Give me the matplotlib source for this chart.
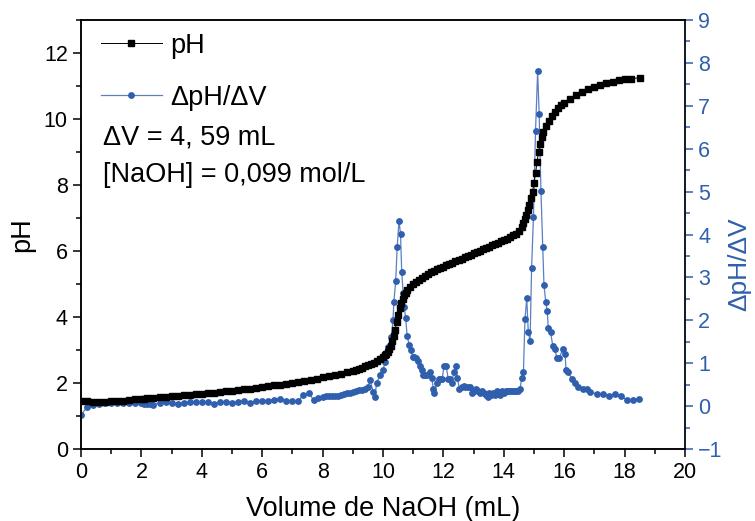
import numpy as np
from matplotlib import pyplot as plt
from matplotlib.ticker import MultipleLocator

# titration curve: volume (mL) and pH
vol_ph = [0.0, 0.2, 0.4, 0.6, 0.8, 1.0, 1.2, 1.4, 1.6, 1.8, 2.0, 2.1, 2.2, 2.4, 2.6,
          2.8, 3.0, 3.2, 3.4, 3.6, 3.8, 4.0, 4.2, 4.4, 4.6, 4.8, 5.0, 5.2, 5.4,
          5.6, 5.8, 6.0, 6.2, 6.4, 6.6, 6.8, 7.0, 7.2, 7.4, 7.6, 7.8, 8.0, 8.2,
          8.4, 8.6, 8.8, 9.0, 9.1, 9.2, 9.3, 9.4, 9.5, 9.6, 9.7, 9.8, 9.9, 10.0,
          10.05, 10.1, 10.15, 10.2, 10.25, 10.3, 10.35, 10.4, 10.45, 10.5, 10.55,
          10.6, 10.65, 10.7, 10.75, 10.8, 10.9, 11.0, 11.1, 11.2, 11.3, 11.4,
          11.5, 11.6, 11.7, 11.8, 11.9, 12.0, 12.1, 12.2, 12.3, 12.4, 12.5,
          12.6, 12.7, 12.8, 12.9, 13.0, 13.1, 13.2, 13.3, 13.4, 13.5, 13.6,
          13.7, 13.8, 13.9, 14.0, 14.1, 14.2, 14.3, 14.4, 14.5, 14.6, 14.65,
          14.7, 14.75, 14.8, 14.85, 14.9, 14.95, 15.0, 15.05, 15.1, 15.15, 15.2,
          15.25, 15.3, 15.4, 15.5, 15.6, 15.7, 15.8, 15.9, 16.0, 16.2, 16.4,
          16.6, 16.8, 17.0, 17.2, 17.4, 17.6, 17.8, 18.0, 18.2, 18.5]
ph = [1.46, 1.44, 1.43, 1.43, 1.43, 1.44, 1.45, 1.46, 1.48, 1.50, 1.52, 1.53, 1.54, 1.55, 1.57,
      1.58, 1.60, 1.62, 1.63, 1.65, 1.67, 1.68, 1.70, 1.71, 1.73, 1.75, 1.77, 1.79, 1.81,
      1.83, 1.86, 1.88, 1.90, 1.93, 1.95, 1.98, 2.01, 2.04, 2.07, 2.10, 2.13, 2.17, 2.20,
      2.24, 2.28, 2.32, 2.37, 2.40, 2.43, 2.46, 2.50, 2.54, 2.58, 2.62, 2.67, 2.73, 2.80,
      2.84, 2.89, 2.95, 3.03, 3.13, 3.26, 3.42, 3.62, 3.84, 4.06, 4.26,
      4.42, 4.55, 4.66, 4.74, 4.81, 4.92, 5.00, 5.07, 5.13, 5.19, 5.25,
      5.30, 5.35, 5.40, 5.45, 5.49, 5.53, 5.57, 5.61, 5.65, 5.69, 5.73,
      5.77, 5.81, 5.85, 5.89, 5.93, 5.97, 6.01, 6.05, 6.09, 6.13, 6.17,
      6.21, 6.25, 6.29, 6.33, 6.37, 6.42, 6.47, 6.53, 6.60, 6.72, 6.85,
      6.98, 7.10, 7.25, 7.40, 7.60, 7.80, 8.05, 8.35, 8.70, 9.00, 9.25,
      9.45, 9.60, 9.80, 9.95, 10.10, 10.22, 10.32, 10.41, 10.48, 10.62, 10.72,
      10.82, 10.90, 10.98, 11.04, 11.09, 11.13, 11.17, 11.20, 11.22, 11.25]

# first derivative
vol_d = [0.0, 0.2, 0.4, 0.6, 0.8, 1.0, 1.2, 1.4, 1.6, 1.8, 2.0, 2.1, 2.2, 2.3, 2.4,
         2.6, 2.8, 3.0, 3.2, 3.4, 3.6, 3.8, 4.0, 4.2, 4.4, 4.6, 4.8, 5.0, 5.2,
         5.4, 5.6, 5.8, 6.0, 6.2, 6.4, 6.6, 6.8, 7.0, 7.2, 7.35, 7.55, 7.7,
         7.85, 8.0, 8.1, 8.2, 8.3, 8.4, 8.5, 8.6, 8.7, 8.8, 8.9, 9.0, 9.1, 9.2,
         9.3, 9.4, 9.5, 9.57, 9.67, 9.73, 9.79, 9.9, 10.0, 10.07, 10.12, 10.17,
         10.28, 10.33, 10.36, 10.42, 10.47, 10.53, 10.58, 10.62, 10.67, 10.7,
         10.75, 10.8, 10.87, 10.93, 10.98, 11.04, 11.09, 11.17, 11.22, 11.28,
         11.34, 11.39, 11.45, 11.56, 11.61, 11.67, 11.7, 11.78, 11.84, 11.9,
         11.96, 12.02, 12.09, 12.16, 12.22, 12.27, 12.35, 12.42, 12.46, 12.53,
         12.6, 12.67, 12.73, 12.8, 12.87, 12.94, 13.0, 13.07, 13.13, 13.2,
         13.27, 13.33, 13.4, 13.46, 13.52, 13.58, 13.64, 13.7, 13.76, 13.82,
         13.88, 13.94, 14.0, 14.06, 14.12, 14.18, 14.24, 14.3, 14.36, 14.42,
         14.48, 14.54, 14.59, 14.65, 14.7, 14.76, 14.81, 14.87, 14.92, 14.98,
         15.05, 15.12, 15.17, 15.23, 15.29, 15.33, 15.39, 15.44, 15.47, 15.55,
         15.62, 15.7, 15.75, 15.84, 15.95, 16.03, 16.06, 16.14, 16.25, 16.36,
         16.47, 16.61, 16.74, 16.87, 17.07, 17.27, 17.48, 17.68, 17.88, 18.07,
         18.29, 18.49]
dph_dv = [-0.2, -0.03, 0.03, 0.06, 0.07, 0.07, 0.07, 0.07, 0.07, 0.07, 0.08, 0.05, 0.05, 0.04, 0.03,
          0.08, 0.09, 0.07, 0.06, 0.08, 0.1, 0.09, 0.09, 0.09, 0.06, 0.09, 0.1, 0.08, 0.1,
          0.12, 0.08, 0.12, 0.12, 0.13, 0.15, 0.17, 0.13, 0.12, 0.11, 0.26, 0.3, 0.14,
          0.18, 0.22, 0.23, 0.23, 0.23, 0.23, 0.24, 0.27, 0.28, 0.3, 0.3, 0.32, 0.36, 0.37,
          0.37, 0.4, 0.45, 0.61, 0.34, 0.22, 0.54, 0.72, 0.84, 1.03, 1.24, 1.38,
          1.62, 2.0, 2.43, 2.92, 3.72, 4.32, 4.01, 3.12, 2.63, 2.32,
          2.05, 1.63, 1.42, 1.31, 1.15, 1.14, 1.13, 1.04, 0.93, 0.83,
          0.72, 0.72, 0.72, 0.8, 0.65, 0.41, 0.31, 0.53, 0.63, 0.63,
          0.63, 0.94, 0.94, 0.63, 0.63, 0.53, 0.8, 0.94, 0.65, 0.41,
          0.45, 0.47, 0.45, 0.45, 0.45, 0.31, 0.35, 0.41, 0.35, 0.3,
          0.35, 0.31, 0.26, 0.22, 0.31, 0.26, 0.31, 0.26, 0.35, 0.3,
          0.26, 0.35, 0.31, 0.35, 0.35, 0.35, 0.35, 0.35, 0.35, 0.35,
          0.35, 0.41, 0.65, 0.8, 2.02, 2.51, 1.73, 1.52, 3.21, 4.4,
          6.41, 7.81, 6.81, 5.01, 3.72, 2.82, 2.42, 2.22, 1.83, 1.72,
          1.41, 1.33, 1.13, 1.13, 1.32, 1.21, 0.84, 0.79, 0.63, 0.53,
          0.45, 0.41, 0.41, 0.34, 0.28, 0.28, 0.24, 0.28, 0.24, 0.14,
          0.14, 0.17]

blue = '#2f5fad'
font = 'Liberation Sans'
plt.rcParams['font.family'] = [font, 'DejaVu Sans']

fig = plt.figure(figsize=(7.55, 5.21), dpi=100)
ax = fig.add_axes([0.1073, 0.1382, 0.8, 0.8234])
ax2 = ax.twinx()

ln1, = ax.plot(vol_ph, ph, color='black', lw=0.7, marker='s', ms=4.0,
               mec='black', mfc='black', label='pH')
ln2, = ax2.plot(vol_d, dph_dv, color='#5a7fc2', lw=0.9, marker='o', ms=3.9,
                mec=blue, mfc=blue, label='ΔpH/ΔV')

# put the pH curve on top of the derivative
ax.set_zorder(ax2.get_zorder() + 1)
ax.patch.set_visible(False)

ax.set_xlim(0, 20)
ax.set_ylim(0, 13)
ax2.set_ylim(-1, 9)

ax.xaxis.set_major_locator(MultipleLocator(2))
ax.xaxis.set_minor_locator(MultipleLocator(1))
ax.yaxis.set_major_locator(MultipleLocator(2))
ax.yaxis.set_minor_locator(MultipleLocator(1))
ax2.yaxis.set_major_locator(MultipleLocator(1))
ax2.yaxis.set_minor_locator(MultipleLocator(0.5))

for a in (ax, ax2):
    for s in a.spines.values():
        s.set_linewidth(1.1)
ax.tick_params(which='major', direction='out', length=6, width=1.1, labelsize=15.5)
ax.tick_params(which='minor', direction='out', length=3.5, width=1.1)
ax.tick_params(top=False, which='both')
ax2.spines['right'].set_color(blue)
ax2.tick_params(which='major', direction='out', length=6, width=1.1,
                colors=blue, labelsize=15.5)
ax2.tick_params(which='minor', direction='out', length=3.5, width=1.1, colors=blue)

ax.set_xlabel('Volume de NaOH (mL)', fontsize=19.5, labelpad=9)
ax.set_ylabel('pH', fontsize=19.5, labelpad=6)
ax2.set_ylabel('ΔpH/ΔV', fontsize=19, color=blue)
ax2.yaxis.set_label_coords(1.070, 0.43)

ax.legend(handles=[ln1, ln2], loc='upper left', frameon=False, fontsize=19.5,
          handlelength=2.25, handletextpad=0.3, labelspacing=0.95,
          borderpad=0.0, borderaxespad=0.0, bbox_to_anchor=(0.033, 0.97))
ax.text(0.036, 0.727, 'ΔV = 4, 59 mL', transform=ax.transAxes,
        fontsize=19.5, va='center')
ax.text(0.036, 0.639, '[NaOH] = 0,099 mol/L', transform=ax.transAxes,
        fontsize=19.5, va='center')

fig.savefig('out.png', dpi=100)
